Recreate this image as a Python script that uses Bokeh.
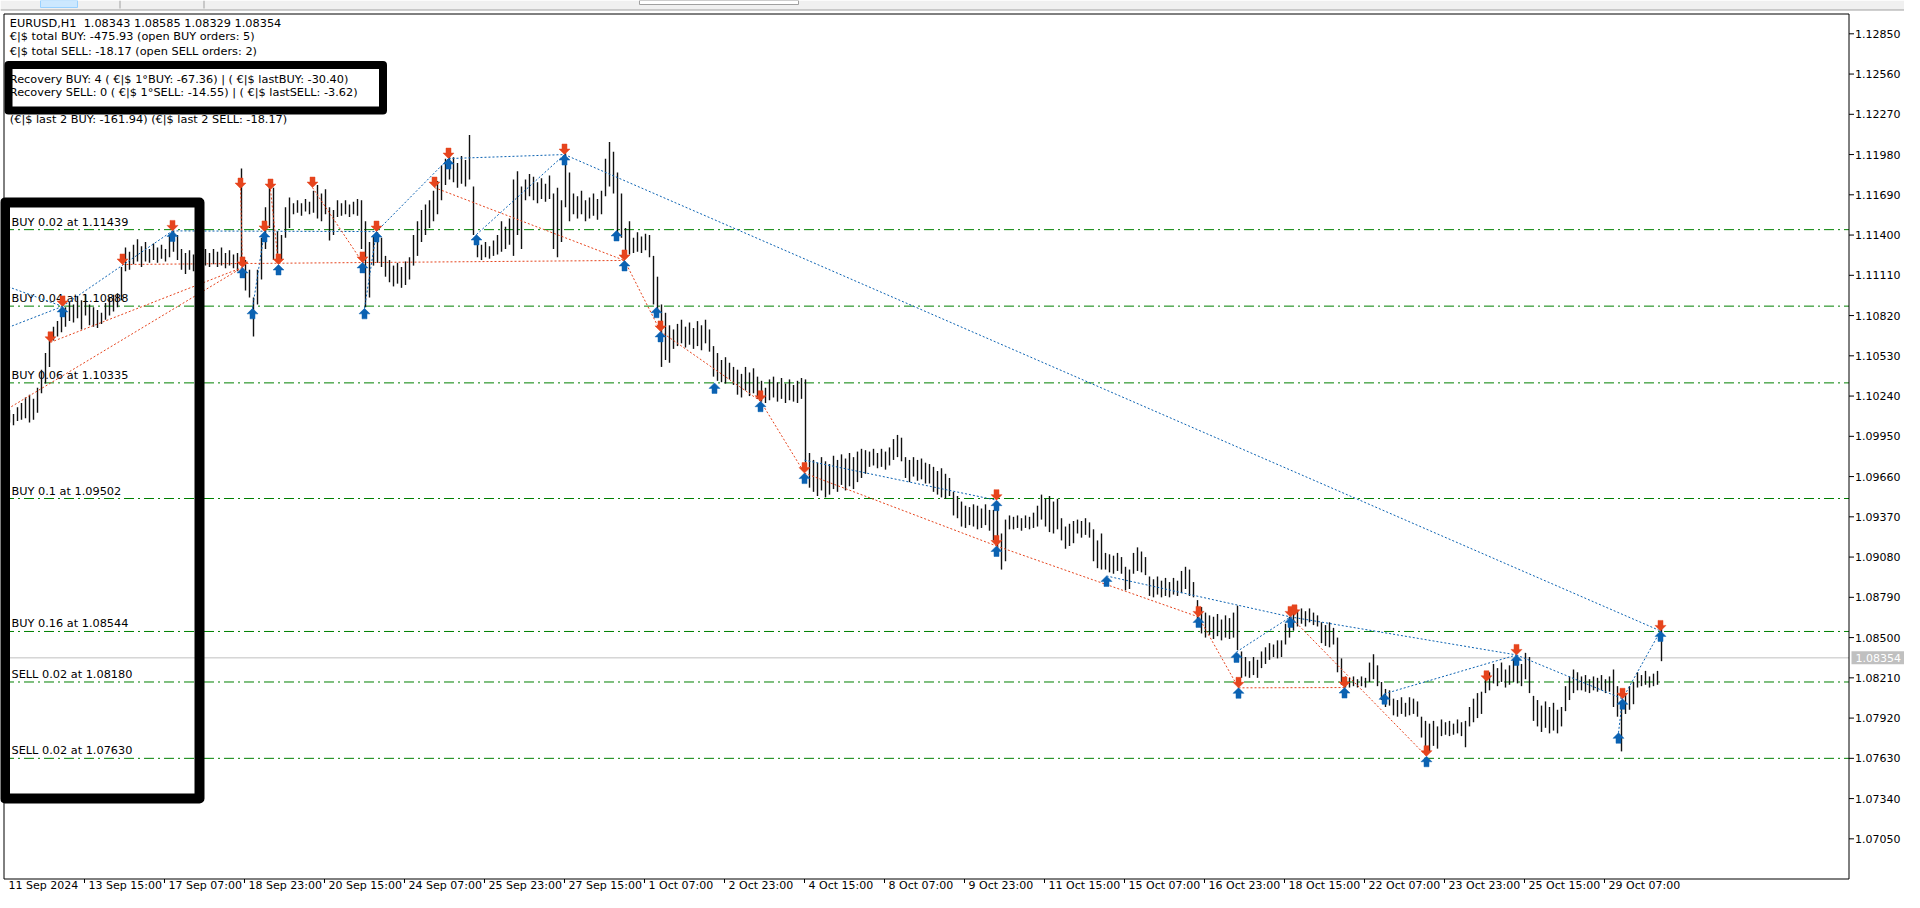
from bokeh.plotting import figure
from bokeh.models import Range1d
from bokeh.embed import file_html
from bokeh.resources import INLINE
from bokeh.core.properties import value

# ---------------- data ----------------
symbol = "EURUSD"
timeframe = "H1"
last_ohlc = [1.08343, 1.08585, 1.08329, 1.08354]
last_price = 1.08354

info_lines = [
    "€|$ total BUY: -475.93 (open BUY orders: 5)",
    "€|$ total SELL: -18.17 (open SELL orders: 2)",
    "Recovery BUY: 4 ( €|$ 1°BUY: -67.36) | ( €|$ lastBUY: -30.40)",
    "Recovery SELL: 0 ( €|$ 1°SELL: -14.55) | ( €|$ lastSELL: -3.62)",
    "(€|$ last 2 BUY: -161.94)  (€|$ last 2 SELL: -18.17)",
]

price_ticks = [1.12850, 1.12560, 1.12270, 1.11980, 1.11690, 1.11400, 1.11110,
               1.10820, 1.10530, 1.10240, 1.09950, 1.09660, 1.09370, 1.09080,
               1.08790, 1.08500, 1.08210, 1.07920, 1.07630, 1.07340, 1.07050]

time_labels = ["11 Sep 2024", "13 Sep 15:00", "17 Sep 07:00", "18 Sep 23:00",
               "20 Sep 15:00", "24 Sep 07:00", "25 Sep 23:00", "27 Sep 15:00",
               "1 Oct 07:00", "2 Oct 23:00", "4 Oct 15:00", "8 Oct 07:00",
               "9 Oct 23:00", "11 Oct 15:00", "15 Oct 07:00", "16 Oct 23:00",
               "18 Oct 15:00", "22 Oct 07:00", "23 Oct 23:00", "25 Oct 15:00",
               "29 Oct 07:00"]
time_label_idx = [0, 40, 80, 120, 160, 200, 240, 280, 320, 360, 400, 440, 480,
                  520, 560, 600, 640, 680, 720, 760, 800]
tick_idx = [40, 80, 120, 160, 200, 240, 280, 320, 360, 400, 440, 480, 520,
            560, 600, 640, 680, 720, 760, 800]

order_types = ["BUY", "BUY", "BUY", "BUY", "BUY", "SELL", "SELL"]
order_lots = [0.02, 0.04, 0.06, 0.1, 0.16, 0.02, 0.02]
order_prices = [1.11439, 1.10888, 1.10335, 1.09502, 1.08544, 1.08180, 1.07630]

# two-hour bars, prices x 10000
bar_high = [
 11012, 11014, 11011, 11016, 11019, 11023, 11025, 11022, 11030, 11043,
 11055, 11064, 11074, 11078, 11081, 11088, 11092, 11090, 11096, 11093,
 11097, 11090, 11088, 11086, 11084, 11091, 11095, 11097, 11098, 11117,
 11131, 11128, 11133, 11137, 11132, 11135, 11130, 11134, 11131, 11133,
 11130, 11140, 11143, 11140, 11130, 11127, 11129, 11126, 11128, 11127,
 11130, 11127, 11130, 11128, 11131, 11127, 11129, 11126, 11127, 11188,
 11122, 11115, 11095, 11115, 11138, 11160, 11175, 11174, 11143, 11140,
 11160, 11167, 11163, 11165, 11163, 11166, 11164, 11172, 11176, 11170,
 11173, 11160, 11158, 11165, 11163, 11165, 11162, 11164, 11166, 11165,
 11150, 11135, 11140, 11142, 11138, 11125, 11122, 11118, 11120, 11117,
 11121, 11124, 11140, 11150, 11158, 11162, 11165, 11172, 11179, 11190,
 11195, 11199, 11196, 11192, 11197, 11194, 11212, 11175, 11136, 11133,
 11135, 11132, 11136, 11140, 11150, 11146, 11152, 11180, 11186, 11175,
 11180, 11184, 11182, 11178, 11181, 11177, 11183, 11170, 11174, 11165,
 11199, 11185, 11170, 11168, 11172, 11165, 11167, 11170, 11166, 11172,
 11195, 11207, 11200, 11185, 11170, 11145, 11150, 11138, 11142, 11139,
 11141, 11140, 11125, 11110, 11090, 11084, 11075, 11072, 11076, 11079,
 11074, 11077, 11073, 11078, 11075, 11079, 11072, 11060, 11055, 11050,
 11052, 11048, 11045, 11043, 11040, 11045, 11041, 11044, 11038, 11035,
 11030, 11036, 11038, 11034, 11037, 11033, 11036, 11032, 11035, 11037,
 11036, 10983, 10978, 10976, 10980, 10977, 10975, 10981, 10978, 10982,
 10979, 10983, 10980, 10984, 10986, 10985, 10984, 10986, 10983, 10986,
 10984, 10987, 10993, 10996, 10994, 10980, 10978, 10980, 10978, 10979,
 10976, 10975, 10973, 10970, 10972, 10968, 10965, 10955, 10952, 10948,
 10945, 10944, 10946, 10945, 10943, 10946, 10942, 10942, 10948, 10925,
 10935, 10938, 10937, 10938, 10936, 10938, 10937, 10940, 10945, 10953,
 10950, 10952, 10948, 10950, 10936, 10930, 10932, 10934, 10935, 10934,
 10936, 10933, 10928, 10920, 10925, 10911, 10910, 10909, 10911, 10908,
 10901, 10899, 10911, 10915, 10912, 10908, 10894, 10892, 10894, 10891,
 10893, 10890, 10893, 10891, 10898, 10901, 10899, 10890, 10877, 10872,
 10868, 10866, 10865, 10867, 10863, 10866, 10864, 10868, 10873, 10840,
 10836, 10833, 10836, 10834, 10840, 10843, 10846, 10845, 10848, 10848,
 10860, 10865, 10868, 10870, 10871, 10869, 10871, 10868, 10866, 10861,
 10859, 10861, 10857, 10850, 10835, 10822, 10821, 10822, 10820, 10822,
 10821, 10832, 10838, 10830, 10818, 10813, 10812, 10806, 10805, 10807,
 10803, 10807, 10806, 10804, 10793, 10790, 10788, 10790, 10786, 10791,
 10789, 10790, 10788, 10791, 10789, 10790, 10800, 10806, 10810, 10811,
 10822, 10825, 10831, 10828, 10832, 10827, 10830, 10834, 10833, 10831,
 10839, 10836, 10808, 10805, 10801, 10804, 10800, 10803, 10798, 10800,
 10815, 10822, 10827, 10825, 10822, 10823, 10820, 10822, 10821, 10823,
 10820, 10822, 10827, 10815, 10800, 10810, 10815, 10818, 10825, 10823,
 10826, 10822, 10824, 10826, 10859]
bar_low = [
 11004, 11005, 11003, 11006, 11007, 11008, 11005, 11007, 11012, 11026,
 11033, 11045, 11064, 11067, 11070, 11074, 11078, 11077, 11080, 11072,
 11082, 11075, 11074, 11073, 11076, 11079, 11082, 11085, 11088, 11093,
 11114, 11115, 11119, 11121, 11117, 11121, 11120, 11122, 11120, 11123,
 11121, 11124, 11128, 11122, 11115, 11112, 11115, 11114, 11117, 11116,
 11118, 11117, 11119, 11117, 11118, 11116, 11118, 11116, 11114, 11118,
 11100, 11095, 11067, 11090, 11108, 11130, 11145, 11122, 11120, 11122,
 11138, 11145, 11155, 11156, 11154, 11157, 11155, 11156, 11152, 11150,
 11155, 11136, 11140, 11153, 11154, 11155, 11153, 11155, 11154, 11130,
 11088, 11095, 11118, 11120, 11117, 11110, 11106, 11103, 11105, 11102,
 11104, 11108, 11118, 11125, 11135, 11140, 11145, 11150, 11155, 11165,
 11176, 11180, 11178, 11174, 11177, 11175, 11180, 11140, 11124, 11122,
 11124, 11123, 11125, 11126, 11128, 11130, 11133, 11125, 11140, 11130,
 11165, 11168, 11165, 11163, 11166, 11164, 11166, 11130, 11124, 11135,
 11160, 11150, 11155, 11152, 11155, 11150, 11152, 11154, 11151, 11155,
 11168, 11175, 11170, 11141, 11138, 11124, 11126, 11127, 11128, 11127,
 11129, 11124, 11090, 11084, 11045, 11050, 11048, 11058, 11060, 11062,
 11059, 11061, 11058, 11060, 11057, 11062, 11056, 11038, 11035, 11034,
 11033, 11036, 11032, 11025, 11023, 11028, 11024, 11026, 11022, 11020,
 11019, 11021, 11023, 11020, 11022, 11019, 11021, 11020, 11019, 11022,
 10976, 10958, 10955, 10952, 10956, 10951, 10953, 10957, 10955, 10960,
 10956, 10959, 10957, 10962, 10965, 10968, 10973, 10974, 10972, 10973,
 10971, 10974, 10978, 10980, 10977, 10965, 10962, 10966, 10963, 10964,
 10961, 10961, 10955, 10953, 10951, 10950, 10952, 10938, 10936, 10930,
 10929, 10931, 10930, 10928, 10929, 10931, 10927, 10920, 10910, 10899,
 10905, 10928, 10928, 10929, 10927, 10929, 10928, 10929, 10930, 10935,
 10930, 10926, 10925, 10928, 10920, 10914, 10916, 10918, 10925, 10922,
 10924, 10922, 10905, 10900, 10899, 10899, 10897, 10896, 10898, 10896,
 10884, 10885, 10896, 10898, 10897, 10895, 10880, 10879, 10881, 10879,
 10880, 10879, 10881, 10880, 10882, 10885, 10880, 10879, 10860, 10853,
 10850, 10852, 10849, 10851, 10848, 10850, 10849, 10850, 10841, 10821,
 10822, 10821, 10823, 10821, 10828, 10831, 10834, 10836, 10835, 10836,
 10845, 10850, 10855, 10858, 10860, 10858, 10861, 10859, 10858, 10846,
 10844, 10843, 10845, 10825, 10816, 10814, 10814, 10815, 10814, 10815,
 10814, 10818, 10820, 10815, 10805, 10800, 10801, 10794, 10793, 10795,
 10793, 10794, 10795, 10793, 10778, 10770, 10768, 10772, 10770, 10779,
 10780, 10779, 10780, 10781, 10779, 10771, 10786, 10789, 10792, 10795,
 10810, 10812, 10817, 10815, 10818, 10814, 10816, 10818, 10817, 10815,
 10820, 10810, 10790, 10786, 10782, 10785, 10781, 10783, 10781, 10786,
 10797, 10805, 10810, 10812, 10812, 10811, 10810, 10812, 10811, 10812,
 10810, 10811, 10800, 10793, 10768, 10795, 10798, 10802, 10814, 10815,
 10816, 10814, 10815, 10816, 10833]

# trade arrows: hourly bar index and deal price
sell_idx = [23, 29, 59, 84, 118, 119, 133, 130, 137, 154, 179, 186, 215, 222,
            280, 310, 328, 378, 400, 496, 496, 597, 617, 643, 645, 670, 711,
            741, 756, 809, 828]
sell_price = [1.10627, 1.10886, 1.11188, 1.11430, 1.11735, 1.11167, 1.11728,
              1.11426, 1.11188, 1.11742, 1.11203, 1.11425, 1.11742, 1.11951,
              1.11980, 1.11217, 1.10706, 1.10203, 1.09685, 1.09490, 1.09160,
              1.08649, 1.08138, 1.08649, 1.08660, 1.08140, 1.07645, 1.08185,
              1.08375, 1.08059, 1.08548]
buy_idx = [29, 84, 119, 124, 130, 137, 179, 180, 186, 222, 236, 280, 306, 310,
           326, 328, 355, 378, 400, 496, 496, 551, 597, 616, 617, 643, 670,
           690, 711, 756, 807, 809, 828]
buy_price = [1.10886, 1.11430, 1.11167, 1.10872, 1.11426, 1.11188, 1.11203,
             1.10872, 1.11425, 1.11951, 1.11404, 1.11980, 1.11433, 1.11217,
             1.10880, 1.10706, 1.10335, 1.10203, 1.09685, 1.09490, 1.09160,
             1.08944, 1.08649, 1.08397, 1.08138, 1.08649, 1.08140, 1.08095,
             1.07645, 1.08375, 1.07814, 1.08059, 1.08548]

# position lines (open -> close), blue = buy positions, red = sell positions
buy_line_i0 = [0, 0, 29, 84, 124, 180, 186, 222, 236, 280, 400, 551, 616, 643, 690, 756, 807, 809]
buy_line_p0 = [1.10724, 1.11037, 1.10886, 1.11430, 1.10872, 1.10872, 1.11425, 1.11951,
               1.11404, 1.11980, 1.09778, 1.08944, 1.08397, 1.08649, 1.08095,
               1.08375, 1.07814, 1.08059]
buy_line_i1 = [29, 29, 84, 186, 130, 186, 222, 280, 280, 828, 496, 643, 643, 756, 756, 809, 809, 828]
buy_line_p1 = [1.10886, 1.10886, 1.11430, 1.11425, 1.11426, 1.11425, 1.11951, 1.11980,
               1.11980, 1.08548, 1.09490, 1.08649, 1.08649, 1.08375, 1.08375,
               1.08059, 1.08059, 1.08548]
sell_line_i0 = [0, 23, 59, 118, 133, 154, 215, 310, 328, 378, 400, 496, 597, 617, 643]
sell_line_p0 = [1.10134, 1.10627, 1.11188, 1.11735, 1.11728, 1.11742, 1.11742, 1.11217,
                1.10706, 1.10203, 1.09685, 1.09160, 1.08649, 1.08138, 1.08649]
sell_line_i1 = [119, 119, 310, 119, 137, 179, 310, 328, 378, 400, 496, 597, 617, 670, 711]
sell_line_p1 = [1.11167, 1.11167, 1.11217, 1.11167, 1.11188, 1.11203, 1.11217, 1.10706,
                1.10203, 1.09685, 1.09160, 1.08649, 1.08138, 1.08140, 1.07645]

# ---------------- layout helpers (screen pixels -> data) ----------------
W, H = 1904, 892
PX_PER_IDX = 2.0
IDX_ORIGIN_PX = 4.0
PRICE_REF = 1.12850
PRICE_REF_PX = 33.3
PX_PER_PRICE = 13880.0


def ix(px):
    return (px - IDX_ORIGIN_PX) / PX_PER_IDX


def pr(py):
    return PRICE_REF - (py - PRICE_REF_PX) / PX_PER_PRICE


def py_of(price):
    return PRICE_REF_PX + (PRICE_REF - price) * PX_PER_PRICE


FONT = "DejaVu Sans"
FS = "11.3px"
GREEN = "#008000"
BLUE = "#0b62b2"
RED = "#e6441d"
CHART_L, CHART_T, CHART_R, CHART_B = 3.5, 13.5, 1848.5, 878.5

p = figure(width=W, height=H,
           x_range=Range1d(ix(0), ix(W)), y_range=Range1d(pr(H), pr(0)),
           output_backend="svg", toolbar_location=None,
           x_axis_location=None, y_axis_location=None, min_border=0)
p.xgrid.visible = False
p.ygrid.visible = False
p.outline_line_color = None
p.background_fill_color = "white"
p.border_fill_color = "white"

# terminal chrome strip at the top
p.quad(left=[ix(0)], right=[ix(W)], top=[pr(0)], bottom=[pr(9.5)],
       fill_color="#f0f0f0", line_color=None)
p.segment(x0=[ix(0)], x1=[ix(W)], y0=[pr(9.5)], y1=[pr(9.5)], line_color="#a0a0a0")
p.quad(left=[ix(40), ix(639)], right=[ix(77), ix(798)], top=[pr(0), pr(0)],
       bottom=[pr(7), pr(4)], fill_color=["#cce8ff", "#ffffff"],
       line_color=["#99d1ff", "#a0a0a0"])
p.segment(x0=[ix(119.5), ix(203.5)], x1=[ix(119.5), ix(203.5)], y0=[pr(0), pr(0)],
          y1=[pr(8), pr(8)], line_color="#a0a0a0")

# current price line
p.segment(x0=[ix(CHART_L)], x1=[ix(CHART_R)], y0=[last_price], y1=[last_price],
          line_color="#c0c0c0", line_width=1)

# order lines and labels
n_ord = len(order_prices)
p.segment(x0=[ix(CHART_L)] * n_ord, x1=[ix(CHART_R)] * n_ord, y0=order_prices, y1=order_prices,
          line_color=GREEN, line_width=1, line_dash="10 4 2 4")
order_texts = [f"{t} {lot:g} at {op:.5f}" for t, lot, op in zip(order_types, order_lots, order_prices)]
p.text(x=[ix(11)] * n_ord, y=order_prices, text=order_texts,
       text_font=value(FONT), text_font_size=FS, text_color="black",
       text_baseline="bottom", text_align="left", y_offset=-1)

# price bars
bar_x = [2 * j + 0.5 for j in range(len(bar_high))]
p.segment(x0=bar_x, x1=bar_x, y0=[v / 10000 for v in bar_low], y1=[v / 10000 for v in bar_high],
          line_color="#101010", line_width=1.4)

# position lines
p.segment(x0=buy_line_i0, y0=buy_line_p0, x1=buy_line_i1, y1=buy_line_p1,
          line_color=BLUE, line_width=1, line_dash="2 2")
p.segment(x0=sell_line_i0, y0=sell_line_p0, x1=sell_line_i1, y1=sell_line_p1,
          line_color=RED, line_width=1, line_dash="2 2")

# arrows
ARROW = [(0, 0), (5.5, 5.5), (2.5, 5.5), (2.5, 10.5), (-2.5, 10.5), (-2.5, 5.5), (-5.5, 5.5)]


def arrows(idx, prices, up):
    sgn = 1 if up else -1
    xs, ys = [], []
    for i, pp in zip(idx, prices):
        xs.append([i + dx / PX_PER_IDX for dx, dy in ARROW])
        ys.append([pp - sgn * dy / PX_PER_PRICE for dx, dy in ARROW])
    return xs, ys


sx, sy = arrows(sell_idx, sell_price, False)
p.patches(sx, sy, fill_color=RED, line_color=RED, line_width=0.5)
bx, by = arrows(buy_idx, buy_price, True)
p.patches(bx, by, fill_color=BLUE, line_color=BLUE, line_width=0.5)

# info texts
header = f"{symbol},{timeframe}\u00a0\u00a0" + " ".join(f"{v:.5f}" for v in last_ohlc)
all_info = [header] + info_lines
info_y = [22.7, 36.0, 50.7, 79.0, 92.3, 119.3]
p.text(x=[ix(9.3)] * len(all_info), y=[pr(v) for v in info_y], text=all_info,
       text_font=value(FONT), text_font_size=FS, text_color="black",
       text_baseline="middle", text_align="left")

# hand-drawn highlight boxes
p.quad(left=[ix(8)], right=[ix(382.5)], top=[pr(64.5)], bottom=[pr(110)],
       fill_alpha=0, line_color="black", line_width=8, line_join="round")
p.quad(left=[ix(4.5)], right=[ix(199)], top=[pr(202)], bottom=[pr(798)],
       fill_alpha=0, line_color="black", line_width=10, line_join="round")

# chart frame
p.segment(x0=[ix(CHART_L), ix(CHART_R), ix(CHART_L), ix(CHART_L)],
          x1=[ix(CHART_R), ix(CHART_R), ix(CHART_R), ix(CHART_L)],
          y0=[pr(CHART_T), pr(CHART_T), pr(CHART_B), pr(CHART_T)],
          y1=[pr(CHART_T), pr(CHART_B), pr(CHART_B), pr(CHART_B)],
          line_color="black", line_width=1)

# price scale (right)
n_pt = len(price_ticks)
p.segment(x0=[ix(CHART_R)] * n_pt, x1=[ix(CHART_R + 5)] * n_pt, y0=price_ticks, y1=price_ticks,
          line_color="black", line_width=1)
p.text(x=[ix(CHART_R + 6)] * n_pt, y=price_ticks, text=[f"{t:.5f}" for t in price_ticks],
       text_font=value(FONT), text_font_size="11px", text_color="black",
       text_baseline="middle", text_align="left")

# current price tag
p.quad(left=[ix(1851)], right=[ix(1904)], top=[pr(py_of(last_price) - 6.5)],
       bottom=[pr(py_of(last_price) + 6.5)], fill_color="#c0c0c0", line_color=None)
p.text(x=[ix(1855)], y=[last_price], text=[f"{last_price:.5f}"], text_color="white",
       text_font=value(FONT), text_font_size="11px", text_baseline="middle", text_align="left")

# time scale (bottom)
n_tk = len(tick_idx)
p.segment(x0=tick_idx, x1=tick_idx, y0=[pr(CHART_B)] * n_tk, y1=[pr(CHART_B + 4)] * n_tk,
          line_color="black", line_width=1)
p.text(x=time_label_idx, y=[pr(884.5)] * len(time_label_idx), text=time_labels, x_offset=4,
       text_font=value(FONT), text_font_size="11px", text_color="black",
       text_baseline="middle", text_align="left")

open("out.html", "w").write(file_html(p, INLINE))
